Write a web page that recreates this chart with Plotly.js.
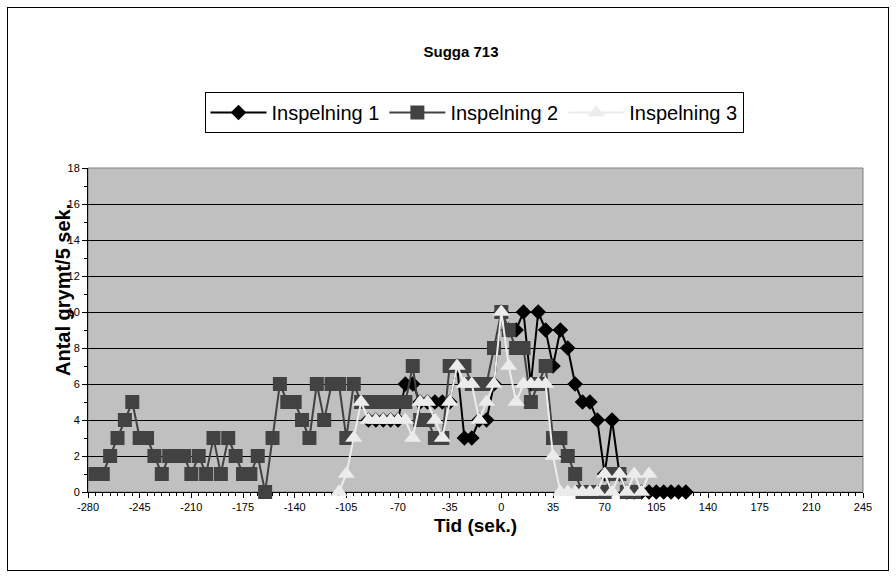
<!DOCTYPE html>
<html>
<head>
<meta charset="utf-8">
<script src="https://cdn.plot.ly/plotly-3.0.1.min.js"></script>
<style>
  html, body { margin: 0; padding: 0; background: #ffffff; }
  #wrap { position: relative; width: 896px; height: 577px; }
  #chart { position: absolute; left: 0; top: 0; width: 896px; height: 577px; }
  #frame { position: absolute; left: 7px; top: 7px; width: 880px; height: 562px; border: 1px solid #000; pointer-events: none; }
</style>
</head>
<body>
<div id="wrap"><div id="chart"></div><div id="frame"></div></div>
<script>
// Tid (sek.) and Antal grymt/5 sek. for each recording
const x1 = [-90,-85,-80,-75,-70,-65,-60,-55,-50,-45,-40,-35,-30,-25,-20,-15,-10,-5,0,5,10,15,20,25,30,35,40,45,50,55,60,65,70,75,80,85,90,95,100,105,110,115,120,125];
const y1 = [4,4,4,4,4,6,6,5,5,5,5,5,7,3,3,4,4,6,10,9,9,10,6,10,9,7,9,8,6,5,5,4,1,4,1,0,0,0,0,0,0,0,0,0];

const x2 = [-275,-270,-265,-260,-255,-250,-245,-240,-235,-230,-225,-220,-215,-210,-205,-200,-195,-190,-185,-180,-175,-170,-165,-160,-155,-150,-145,-140,-135,-130,-125,-120,-115,-110,-105,-100,-95,-90,-85,-80,-75,-70,-65,-60,-55,-50,-45,-40,-35,-30,-25,-20,-15,-10,-5,0,5,10,15,20,25,30,35,40,45,50,55,60,65,70,75,80,85,90];
const y2 = [1,1,2,3,4,5,3,3,2,1,2,2,2,1,2,1,3,1,3,2,1,1,2,0,3,6,5,5,4,3,6,4,6,6,3,6,5,5,5,5,5,5,5,7,4,4,3,3,7,7,7,6,6,6,8,10,9,8,8,5,6,7,3,3,2,1,0,0,0,0,1,1,0,0];

const x3 = [-110,-105,-100,-95,-90,-85,-80,-75,-70,-65,-60,-55,-50,-45,-40,-35,-30,-25,-20,-15,-10,-5,0,5,10,15,20,25,30,35,40,45,50,55,60,65,70,75,80,85,90,95,100];
const y3 = [0,1,3,5,4,4,4,4,4,4,3,5,5,4,3,5,7,6,6,4,5,6,10,7,5,6,6,6,6,2,0,0,0,0,0,0,1,0,1,0,1,0,1];

const seriesNames = ['Inspelning 1', 'Inspelning 2', 'Inspelning 3'];
const xTickVals = [-280,-245,-210,-175,-140,-105,-70,-35,0,35,70,105,140,175,210,245];
const yTickVals = [0,2,4,6,8,10,12,14,16,18];

const FONT = 'Liberation Sans, Arial, Helvetica, sans-serif';

const traces = [
  {x: x1, y: y1, name: seriesNames[0], type: 'scatter', mode: 'lines+markers', cliponaxis: false,
   line: {color: '#000000', width: 2},
   marker: {symbol: 'diamond', size: 12, color: '#000000', line: {width: 0}}},
  {x: x2, y: y2, name: seriesNames[1], type: 'scatter', mode: 'lines+markers', cliponaxis: false,
   line: {color: '#424242', width: 2},
   marker: {symbol: 'square', size: 14, color: '#424242', line: {width: 0}}},
  {x: x3, y: y3, name: seriesNames[2], type: 'scatter', mode: 'lines+markers', cliponaxis: false,
   line: {color: '#ececec', width: 2},
   marker: {symbol: 'triangle-up', size: 15, color: '#ececec', line: {width: 0}}}
];

const layout = {
  width: 896, height: 577,
  margin: {l: 88, r: 33, t: 168, b: 85, pad: 0},
  paper_bgcolor: '#ffffff',
  plot_bgcolor: '#c0c0c0',
  font: {family: FONT, color: '#000000', size: 11},
  showlegend: true,
  title: {text: '<b>Sugga 713</b>', font: {family: FONT, size: 15, color: '#000'},
          xref: 'container', x: 461/896, xanchor: 'center', yref: 'container', y: 1 - 52/577, yanchor: 'middle'},
  xaxis: {
    range: [-280, 245], tickvals: xTickVals, ticktext: xTickVals.map(String),
    ticks: 'outside', ticklen: 5, tickwidth: 1, tickcolor: '#000',
    showline: true, linecolor: '#000', linewidth: 1, mirror: false,
    showgrid: false, zeroline: false, layer: 'below traces',
    tickfont: {family: FONT, size: 11, color: '#000'},
    minor: {dtick: 5, tick0: -280, ticks: 'outside', ticklen: 3, tickcolor: '#000', showgrid: false},
    fixedrange: true
  },
  yaxis: {
    range: [0, 18], tickvals: yTickVals, ticktext: yTickVals.map(String),
    ticks: 'outside', ticklen: 5, tickwidth: 1, tickcolor: '#000',
    showline: true, linecolor: '#000', linewidth: 1,
    showgrid: true, gridcolor: '#000000', gridwidth: 1, zeroline: false, layer: 'below traces',
    tickfont: {family: FONT, size: 11, color: '#000'},
    minor: {dtick: 1, tick0: 0, ticks: 'outside', ticklen: 3, tickcolor: '#000', showgrid: false},
    fixedrange: true
  },
  legend: {
    orientation: 'h', x: (474 - 88) / 775, xanchor: 'center', y: 1 + (168 - 92) / 324, yanchor: 'top',
    bgcolor: '#ffffff', bordercolor: '#000000', borderwidth: 1,
    font: {family: FONT, size: 20, color: '#000'},
    itemwidth: 56, tracegroupgap: 0
  },
  shapes: [
    {type: 'rect', xref: 'paper', yref: 'paper', x0: 0, x1: 1, y0: 0, y1: 1,
     line: {color: '#808080', width: 1}, fillcolor: 'rgba(0,0,0,0)', layer: 'below'}
  ],
  annotations: [
    {text: '<b>Tid (sek.)</b>', xref: 'paper', yref: 'paper', x: (475 - 88) / 775, y: (492 - 525) / 324,
     xanchor: 'center', yanchor: 'middle', showarrow: false, font: {family: FONT, size: 19, color: '#000'}},
    {text: '<b>Antal grymt/5 sek.</b>', xref: 'paper', yref: 'paper', x: (63 - 88) / 775, y: (492 - 290) / 324,
     xanchor: 'center', yanchor: 'middle', textangle: -90, showarrow: false, font: {family: FONT, size: 20, color: '#000'}}
  ]
};

Plotly.newPlot('chart', traces, layout, {staticPlot: true, displayModeBar: false});
</script>
</body>
</html>
